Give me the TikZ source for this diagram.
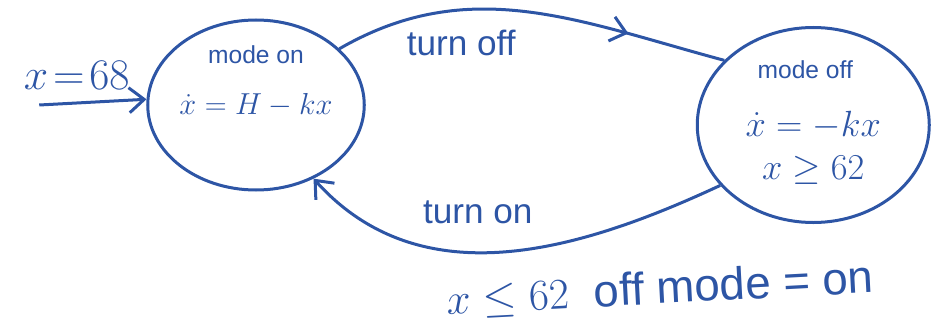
\documentclass[tikz,border=0pt]{standalone}
\usepackage{amsmath}
\usepackage{amssymb}
\usepackage{fontspec}
\setmainfont{Liberation Sans}
\usepackage{tikz}
\usetikzlibrary{positioning, calc}
\usetikzlibrary{shapes, positioning, calc, decorations.markings, arrows.meta}
\definecolor{ink}{RGB}{45,85,165}
\tikzstyle{mode}=[ellipse, draw=ink, text=ink, line width=0.6mm, inner sep=0pt, align=center]
\tikzstyle{arrow}=[line width=0.6mm, draw=ink, -{Straight Barb[length=3mm, width=5mm]}]
\tikzstyle{midarrow}=[line width=0.6mm, draw=ink, postaction={decorate}, decoration={markings, mark=at position 0.75 with {\arrow{Straight Barb[length=3mm, width=5mm]}}}]
\tikzstyle{hand}=[text=ink, inner sep=1pt, font=\fontsize{20}{24}\selectfont]
\tikzstyle{small}=[text=ink, inner sep=1pt, font=\fontsize{14}{17}\selectfont]

\begin{document}
\begin{tikzpicture}[very thick]
        \useasboundingbox (0,0) rectangle (18.66,-6.7);
        % Draw the modes
        \node[mode, minimum width=4.16cm, minimum height=3.4cm, font=\fontsize{17}{20}\selectfont] (on) at (5.12,-2.1) {$\dot{x} = H - kx$};
        \node[mode, minimum width=4.64cm, minimum height=3.9cm, font=\fontsize{22}{26}\selectfont, right = 6.6cm of on, yshift=-0.4cm] (off) {$\dot{x} = -kx$};

        % names and invariant
        \node[small, yshift=1.0cm] (name on) at (on.center) {mode on};
        \node[small, xshift=-0.16cm, yshift=1.1cm] (name off) at (off.center) {mode off};
        \node[hand, font=\fontsize{22}{26}\selectfont, yshift=-0.9cm] (inv off) at (off.center) {$x \geq 62$};

        % initial state
        \coordinate[xshift=-2.14cm, yshift=0.0cm] (init) at (on.west);
        \draw[arrow] (init) -- (on.177);
        \node[hand, font=\fontsize{24}{28}\selectfont, above = 0.25cm of init, xshift=0.75cm] (init val) {$x\!=\!68$};

        % transitions
        \draw[midarrow] (on.34) to[out=30, in=165] node[hand, below = 0.3cm, xshift=-1.3cm] (turn off) {turn off} (off.144);
        \draw[arrow] (off.213) to[out=205, in=-48] node[hand, above = 0.5cm, xshift=-0.5cm] (turn on) {turn on} (on.-52);

        \node[hand, font=\fontsize{26}{30}\selectfont, rotate=3] (guard) at (13.2,-5.8) {$x \leq 62$ \ off mode = on};
    \end{tikzpicture}
\end{document}
